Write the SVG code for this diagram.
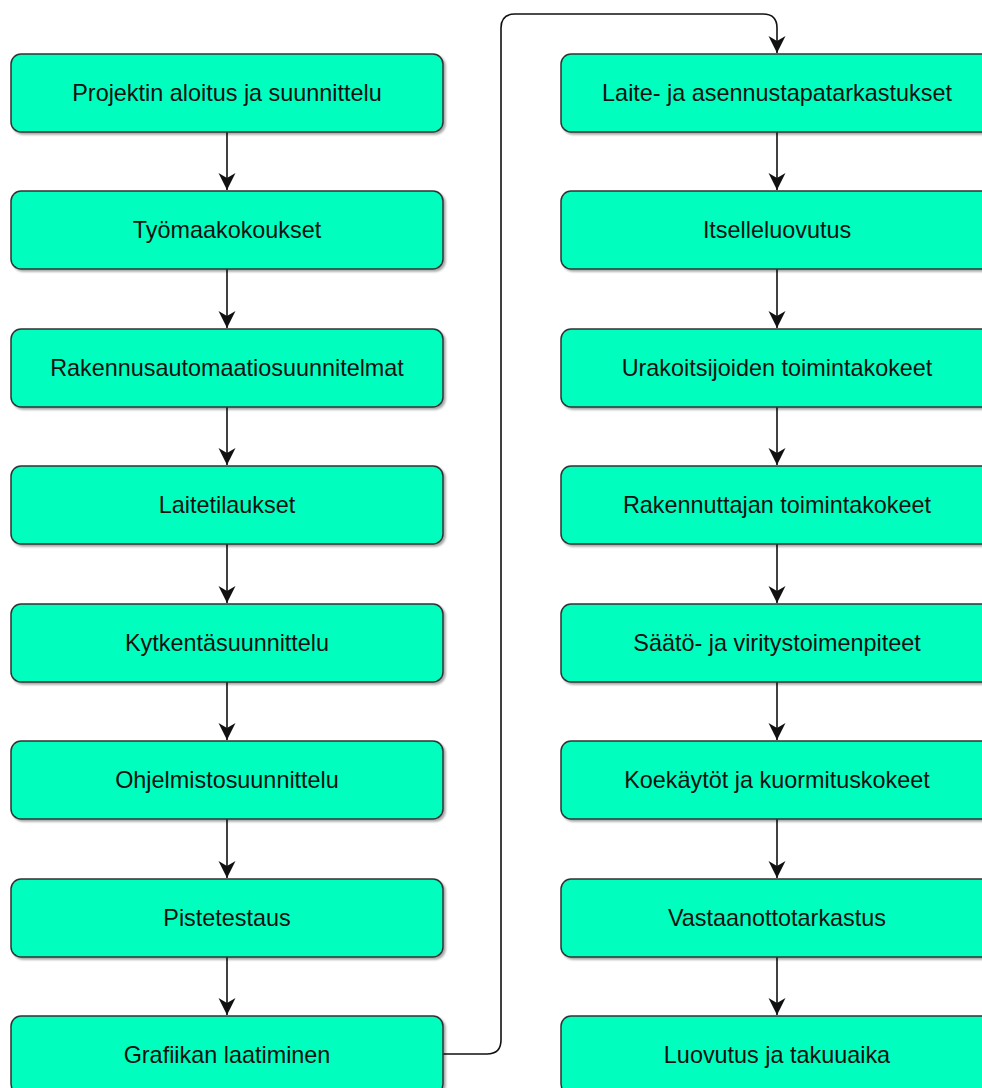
<svg xmlns="http://www.w3.org/2000/svg" width="982" height="1088" viewBox="0 0 982 1088">
<defs>
<style>
.box{fill:#00FFBF;stroke:#333333;stroke-width:1.5;filter:url(#sh)}
.lbl{font-family:"Liberation Sans",Arial,sans-serif;font-size:23.4px;fill:#111111;text-anchor:middle}
.con{fill:none;stroke:#111111;stroke-width:1.6}
</style>
<filter id="sh" x="-5%" y="-10%" width="115%" height="130%">
<feDropShadow dx="2" dy="2" stdDeviation="1.2" flood-color="#000" flood-opacity="0.35"/>
</filter>
<marker id="ah" markerUnits="userSpaceOnUse" markerWidth="20" markerHeight="20" refX="17" refY="8.5" orient="auto">
<path d="M0,0 L17,8.5 L0,17 L5,8.5 Z" fill="#111111"/>
</marker>
</defs>
<g id="connectors">
<line class="con" x1="227" y1="132" x2="227" y2="190" marker-end="url(#ah)"/>
<line class="con" x1="227" y1="269" x2="227" y2="328" marker-end="url(#ah)"/>
<line class="con" x1="227" y1="407" x2="227" y2="465" marker-end="url(#ah)"/>
<line class="con" x1="227" y1="544" x2="227" y2="603" marker-end="url(#ah)"/>
<line class="con" x1="227" y1="682" x2="227" y2="740" marker-end="url(#ah)"/>
<line class="con" x1="227" y1="819" x2="227" y2="878" marker-end="url(#ah)"/>
<line class="con" x1="227" y1="957" x2="227" y2="1015" marker-end="url(#ah)"/>
<path class="con" d="M443,1054 H487 Q501,1054 501,1040 V28 Q501,14 515,14 H763 Q777,14 777,28 V53" marker-end="url(#ah)"/>
<line class="con" x1="777" y1="132" x2="777" y2="190" marker-end="url(#ah)"/>
<line class="con" x1="777" y1="269" x2="777" y2="328" marker-end="url(#ah)"/>
<line class="con" x1="777" y1="407" x2="777" y2="465" marker-end="url(#ah)"/>
<line class="con" x1="777" y1="544" x2="777" y2="603" marker-end="url(#ah)"/>
<line class="con" x1="777" y1="682" x2="777" y2="740" marker-end="url(#ah)"/>
<line class="con" x1="777" y1="819" x2="777" y2="878" marker-end="url(#ah)"/>
<line class="con" x1="777" y1="957" x2="777" y2="1015" marker-end="url(#ah)"/>
</g>
<g id="n1"><rect class="box" x="11" y="54" width="432" height="78" rx="10"/><text class="lbl" x="227" y="101">Projektin aloitus ja suunnittelu</text></g>
<g id="n2"><rect class="box" x="11" y="191" width="432" height="78" rx="10"/><text class="lbl" x="227" y="238">Työmaakokoukset</text></g>
<g id="n3"><rect class="box" x="11" y="329" width="432" height="78" rx="10"/><text class="lbl" x="227" y="376">Rakennusautomaatiosuunnitelmat</text></g>
<g id="n4"><rect class="box" x="11" y="466" width="432" height="78" rx="10"/><text class="lbl" x="227" y="513">Laitetilaukset</text></g>
<g id="n5"><rect class="box" x="11" y="604" width="432" height="78" rx="10"/><text class="lbl" x="227" y="651">Kytkentäsuunnittelu</text></g>
<g id="n6"><rect class="box" x="11" y="741" width="432" height="78" rx="10"/><text class="lbl" x="227" y="788">Ohjelmistosuunnittelu</text></g>
<g id="n7"><rect class="box" x="11" y="879" width="432" height="78" rx="10"/><text class="lbl" x="227" y="926">Pistetestaus</text></g>
<g id="n8"><rect class="box" x="11" y="1016" width="432" height="78" rx="10"/><text class="lbl" x="227" y="1063">Grafiikan laatiminen</text></g>
<g id="n9"><rect class="box" x="561" y="54" width="432" height="78" rx="10"/><text class="lbl" x="777" y="101">Laite- ja asennustapatarkastukset</text></g>
<g id="n10"><rect class="box" x="561" y="191" width="432" height="78" rx="10"/><text class="lbl" x="777" y="238">Itselleluovutus</text></g>
<g id="n11"><rect class="box" x="561" y="329" width="432" height="78" rx="10"/><text class="lbl" x="777" y="376">Urakoitsijoiden toimintakokeet</text></g>
<g id="n12"><rect class="box" x="561" y="466" width="432" height="78" rx="10"/><text class="lbl" x="777" y="513">Rakennuttajan toimintakokeet</text></g>
<g id="n13"><rect class="box" x="561" y="604" width="432" height="78" rx="10"/><text class="lbl" x="777" y="651">Säätö- ja viritystoimenpiteet</text></g>
<g id="n14"><rect class="box" x="561" y="741" width="432" height="78" rx="10"/><text class="lbl" x="777" y="788">Koekäytöt ja kuormituskokeet</text></g>
<g id="n15"><rect class="box" x="561" y="879" width="432" height="78" rx="10"/><text class="lbl" x="777" y="926">Vastaanottotarkastus</text></g>
<g id="n16"><rect class="box" x="561" y="1016" width="432" height="78" rx="10"/><text class="lbl" x="777" y="1063">Luovutus ja takuuaika</text></g>
</svg>
